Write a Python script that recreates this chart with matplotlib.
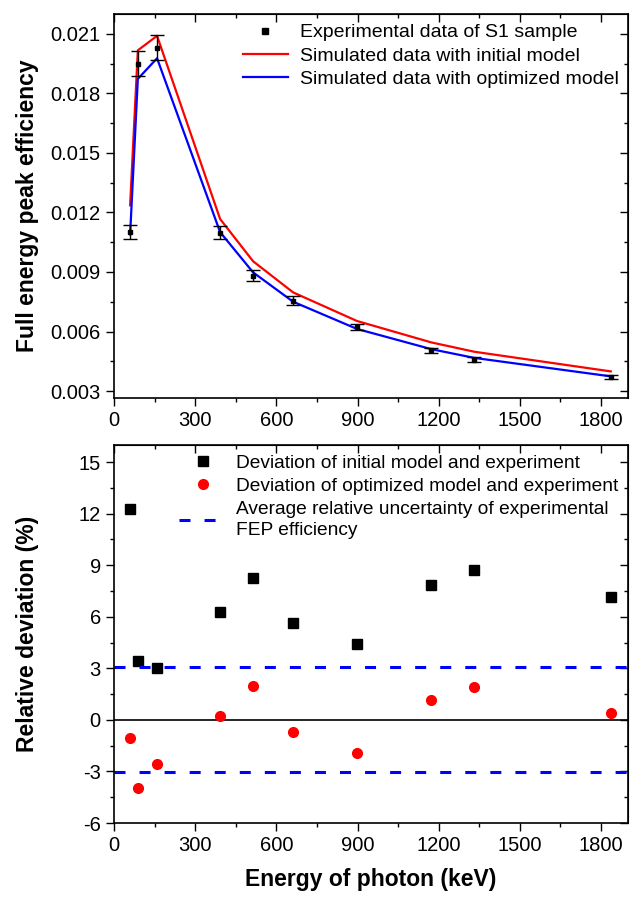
"""
FEP efficiency of S1 sample: experiment vs. simulated models, plus relative deviations.
"""
import matplotlib.pyplot as plt
from matplotlib.lines import Line2D
from matplotlib.ticker import MultipleLocator

plt.rcParams['font.family'] = ['Liberation Sans', 'DejaVu Sans']
plt.rcParams['axes.unicode_minus'] = False

# Photon energies (keV)
energy = [59.5, 88, 159, 392, 514, 662, 898, 1173, 1332, 1836]

# Full energy peak efficiency
eff_exp = [0.01101, 0.01950, 0.02029, 0.01098, 0.00881, 0.00755, 0.00625, 0.00505, 0.00458, 0.00372]
eff_err = [0.00034, 0.00063, 0.00063, 0.00033, 0.00027, 0.00022, 0.00015, 0.00013, 0.00012, 0.00010]
eff_init = [0.01236, 0.02017, 0.02090, 0.01167, 0.00954, 0.00797, 0.00653, 0.00545, 0.00498, 0.00399]
eff_opt = [0.01090, 0.01873, 0.01977, 0.01101, 0.00898, 0.00750, 0.00613, 0.00511, 0.00467, 0.00374]

# Relative deviations (%)
dev_init = [12.3, 3.4, 3.04, 6.26, 8.27, 5.62, 4.44, 7.85, 8.70, 7.17]
dev_opt = [-1.03, -3.97, -2.54, 0.25, 2.0, -0.68, -1.94, 1.16, 1.94, 0.41]
avg_unc = 3.05

fig = plt.figure(figsize=(6.3, 8.98), dpi=100)
ax1 = fig.add_axes([0.181, 0.5568, 0.816, 0.4276])
ax2 = fig.add_axes([0.181, 0.0835, 0.816, 0.421])

# Top panel: efficiencies
ax1.errorbar(energy, eff_exp, yerr=eff_err, fmt='s', color='black', ms=3.5,
             capsize=5, elinewidth=1.0, capthick=1.0, zorder=3)
ax1.plot(energy, eff_init, color='red', lw=1.6)
ax1.plot(energy, eff_opt, color='blue', lw=1.6)

ax1.set_xlim(0, 1900)
ax1.set_ylim(0.00265, 0.022)
ax1.yaxis.set_major_locator(MultipleLocator(0.003))
ax1.yaxis.set_minor_locator(MultipleLocator(0.0015))
ax1.set_ylabel('Full energy peak efficiency', fontsize=16.5, fontweight='bold')

handles = [
    Line2D([], [], ls='none', marker='s', color='black', ms=4),
    Line2D([], [], color='red', lw=1.6),
    Line2D([], [], color='blue', lw=1.6),
]
labels = ['Experimental data of S1 sample', 'Simulated data with initial model',
          'Simulated data with optimized model']
ax1.legend(handles, labels, loc='upper right', frameon=False, fontsize=14, handlelength=2.3,
           handletextpad=0.6, borderaxespad=0.1, labelspacing=0.3)

# Bottom panel: deviations
ax2.axhline(0, color='black', lw=1.2)
ax2.plot(energy, dev_init, 's', color='black', ms=6.5,
         label='Deviation of initial model and experiment')
ax2.plot(energy, dev_opt, 'o', color='red', ms=7,
         label='Deviation of optimized model and experiment')
ax2.axhline(avg_unc, color='blue', lw=2.2, ls=(0, (3.6, 4.6)),
            label='Average relative uncertainty of experimental\nFEP efficiency')
ax2.axhline(-avg_unc, color='blue', lw=2.2, ls=(0, (3.6, 4.6)))

ax2.set_xlim(0, 1900)
ax2.set_ylim(-6, 16)
ax2.yaxis.set_major_locator(MultipleLocator(3))
ax2.yaxis.set_minor_locator(MultipleLocator(1.5))
ax2.set_ylabel('Relative deviation (%)', fontsize=16.5, fontweight='bold')
ax2.set_xlabel('Energy of photon (keV)', fontsize=16.5, fontweight='bold')
leg = ax2.legend(loc='upper right', frameon=False, fontsize=13.8, handlelength=2.5,
                 handletextpad=0.5, borderaxespad=0.1, labelspacing=0.3)
leg.get_texts()[2].set_linespacing(1.35)

for ax in (ax1, ax2):
    ax.xaxis.set_major_locator(MultipleLocator(300))
    ax.xaxis.set_minor_locator(MultipleLocator(150))
    # left / bottom ticks point outward
    ax.tick_params(which='both', direction='out', labelsize=14.5)
    ax.tick_params(which='major', length=6, width=1)
    ax.tick_params(which='minor', length=3, width=1)
    ax.yaxis.set_label_coords(-0.145, 0.5)
    for s in ax.spines.values():
        s.set_linewidth(1.2)

    # top / right ticks point inward
    top = ax.secondary_xaxis('top')
    top.xaxis.set_major_locator(MultipleLocator(300))
    top.xaxis.set_minor_locator(MultipleLocator(150))
    top.tick_params(which='both', direction='in', labeltop=False)
    top.tick_params(which='major', length=6, width=1)
    top.tick_params(which='minor', length=3, width=1)
    right = ax.secondary_yaxis('right')
    right.yaxis.set_major_locator(ax.yaxis.get_major_locator())
    right.yaxis.set_minor_locator(ax.yaxis.get_minor_locator())
    right.tick_params(which='both', direction='in', labelright=False)
    right.tick_params(which='major', length=6, width=1)
    right.tick_params(which='minor', length=3, width=1)

ax2.xaxis.set_label_coords(0.5, -0.12)

fig.savefig('out.png', dpi=100)
